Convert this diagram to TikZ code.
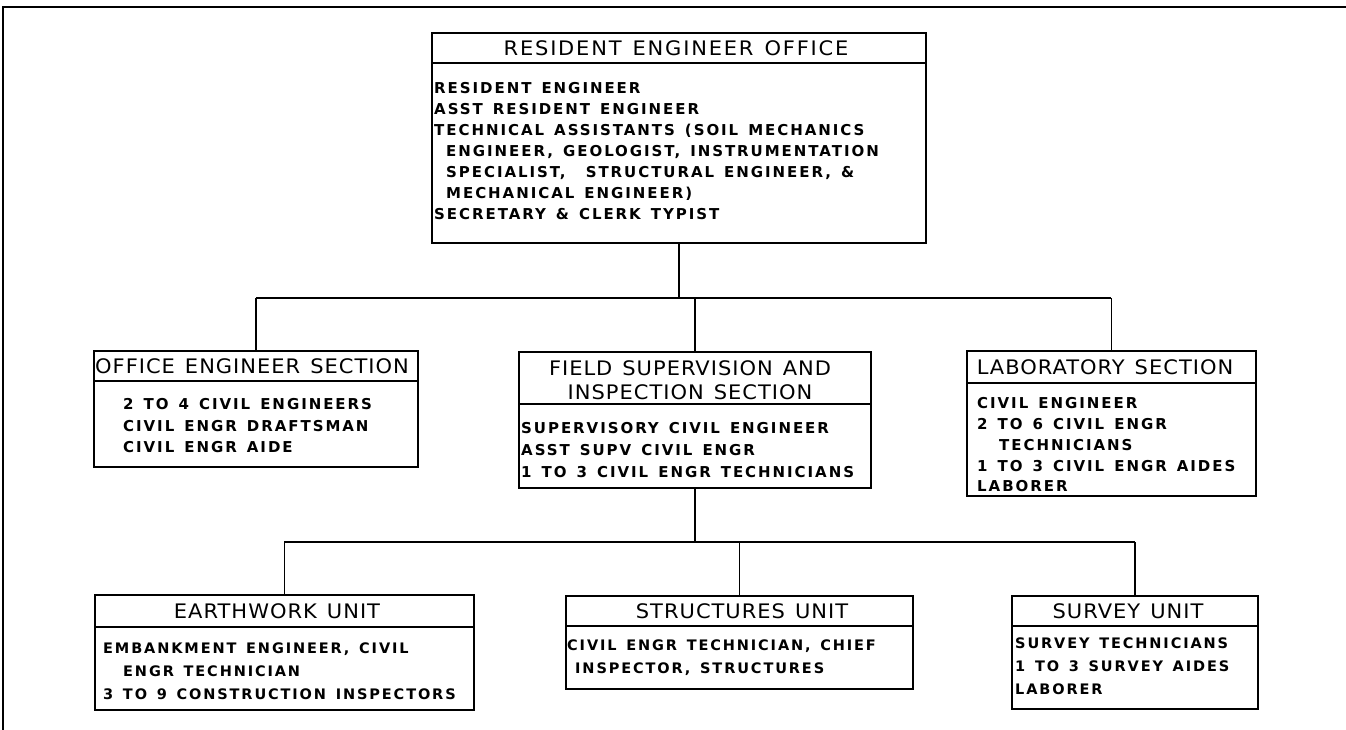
\documentclass[tikz,border=0pt]{standalone}
\usepackage{fontspec}
\newfontfamily\ttlfont[FakeStretch=1.05,LetterSpace=5,WordSpace=1.3]{DejaVu Sans}
\newfontfamily\bdyfont[LetterSpace=13,WordSpace=1.4]{DejaVu Sans}
\begin{document}
\begin{tikzpicture}[x=1pt,y=-1pt,
  boxr/.style={draw, line width=1.6pt, inner sep=0pt, anchor=north west},
  ttl/.style={font=\ttlfont\fontsize{20}{24}\selectfont, inner sep=0pt, align=center},
  bdy/.style={font=\bdyfont\bfseries\fontsize{15}{21}\selectfont, inner sep=0pt, anchor=north west, align=left},
  bdylow/.style={font=\bdyfont\bfseries\fontsize{14.5}{23}\selectfont, inner sep=0pt, anchor=north west, align=left},
  conn/.style={line width=1.5pt},
  divl/.style={line width=1.4pt}]
\useasboundingbox (0,0) rectangle (1346,730);
% frame
\draw[line width=2.4pt] (3,730) -- (3,7) -- (1346,7);
% boxes
\node[boxr, minimum width=494pt, minimum height=210pt] (re) at (431,32) {};
\node[boxr, minimum width=324pt, minimum height=116pt] (off) at (93,350) {};
\node[boxr, minimum width=352pt, minimum height=136pt] (fld) at (518,351) {};
\node[boxr, minimum width=289pt, minimum height=145pt] (lab) at (966,350) {};
\node[boxr, minimum width=379pt, minimum height=115pt] (ew) at (94,594) {};
\node[boxr, minimum width=347pt, minimum height=93pt] (st) at (565,595) {};
\node[boxr, minimum width=246pt, minimum height=113pt] (sv) at (1011,595) {};
% dividers
\coordinate (reD) at (431,63);
\coordinate (offD) at (93,381);
\coordinate (fldD) at (518,404);
\coordinate (labD) at (966,383);
\coordinate (ewD) at (94,627);
\coordinate (stD) at (565,626);
\coordinate (svD) at (1011,626);
\draw[divl] (reD) -- (reD -| re.east);
\draw[divl] (offD) -- (offD -| off.east);
\draw[divl] (fldD) -- (fldD -| fld.east);
\draw[divl] (labD) -- (labD -| lab.east);
\draw[divl] (ewD) -- (ewD -| ew.east);
\draw[divl] (stD) -- (stD -| st.east);
\draw[divl] (svD) -- (svD -| sv.east);
% connectors
\coordinate (barA) at (0,298);
\coordinate (barB) at (0,542);
\draw[conn] (re.south) -- (re.south |- barA);
\draw[conn] (off.north |- barA) -- (lab.north |- barA);
\draw[conn] (off.north |- barA) -- (off.north);
\draw[conn] (fld.north |- barA) -- (fld.north);
\draw[conn] (lab.north |- barA) -- (lab.north);
\draw[conn] (fld.south) -- (fld.south |- barB);
\draw[conn] (ew.north |- barB) -- (sv.north |- barB);
\draw[conn] (ew.north |- barB) -- (ew.north);
\draw[conn] (st.north |- barB) -- (st.north);
\draw[conn] (sv.north |- barB) -- (sv.north);
% titles
\node[ttl] (reT) at (676,48) {\addfontfeature{LetterSpace=9}RESIDENT ENGINEER OFFICE};
\node[ttl] (offT) at (252,366) {OFFICE ENGINEER SECTION};
\node[ttl] (fldT) at (690,380) {FIELD SUPERVISION AND\\INSPECTION SECTION};
\node[ttl] (labT) at (1105,367) {LABORATORY SECTION};
\node[ttl] (ewT) at (277,611) {EARTHWORK UNIT};
\node[ttl] (stT) at (742,611) {STRUCTURES UNIT};
\node[ttl] (svT) at (1128,611) {SURVEY UNIT};
% bodies
\node[bdy] (reB) at (434,82.5) {RESIDENT ENGINEER\\
ASST RESIDENT ENGINEER\\
TECHNICAL ASSISTANTS (SOIL MECHANICS\\
\hspace*{12pt}ENGINEER, GEOLOGIST, INSTRUMENTATION\\
\hspace*{12pt}SPECIALIST, \ STRUCTURAL ENGINEER, \&\\
\hspace*{12pt}MECHANICAL ENGINEER)\\
SECRETARY \& CLERK TYPIST};
\node[bdy, font=\bdyfont\bfseries\fontsize{15}{21.5}\selectfont] (offB) at (123,398.5) {2 TO 4 CIVIL ENGINEERS\\
CIVIL ENGR DRAFTSMAN\\
CIVIL ENGR AIDE};
\node[bdy, font=\bdyfont\bfseries\fontsize{15}{22}\selectfont] (fldB) at (521,422.5) {SUPERVISORY CIVIL ENGINEER\\
ASST SUPV CIVIL ENGR\\
1 TO 3 CIVIL ENGR TECHNICIANS};
\node[bdy, font=\bdyfont\bfseries\fontsize{15}{20.75}\selectfont] (labB) at (977,397.5) {CIVIL ENGINEER\\
2 TO 6 CIVIL ENGR\\
\hspace*{22pt}TECHNICIANS\\
1 TO 3 CIVIL ENGR AIDES\\
LABORER};
\node[bdylow] (ewB) at (103,642.7) {EMBANKMENT ENGINEER, CIVIL\\
\hspace*{20pt}ENGR TECHNICIAN\\
3 TO 9 CONSTRUCTION INSPECTORS};
\node[bdylow] (stB) at (567,639.7) {CIVIL ENGR TECHNICIAN, CHIEF\\
\hspace*{8pt}INSPECTOR, STRUCTURES};
\node[bdylow] (svB) at (1015,637.7) {SURVEY TECHNICIANS\\
1 TO 3 SURVEY AIDES\\
LABORER};
\end{tikzpicture}
\end{document}
